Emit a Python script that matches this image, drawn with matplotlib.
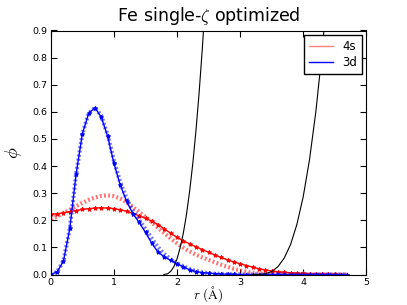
import numpy as np
import matplotlib
matplotlib.use("Agg")
import matplotlib.pyplot as plt
from matplotlib.lines import Line2D

# radial grid (Angstrom)
r = np.round(np.arange(0, 4.71, 0.1), 2)

# 4s: reference (dotted) and optimized single-zeta (stars)
s_ref = [0.205, 0.214, 0.226, 0.239, 0.252, 0.264, 0.275, 0.284, 0.290, 0.292,
         0.289, 0.280, 0.266, 0.249, 0.231, 0.212, 0.192, 0.172, 0.152, 0.133,
         0.115, 0.099, 0.085, 0.073, 0.063, 0.054, 0.045, 0.036, 0.028, 0.021,
         0.015, 0.010, 0.006, 0.004, 0.002, 0.001, 0.0, 0.0, 0.0, 0.0,
         0.0, 0.0, 0.0, 0.0, 0.0, 0.0, 0.0, 0.0]
s_opt = [0.222, 0.224, 0.228, 0.232, 0.236, 0.240, 0.243, 0.245, 0.246, 0.245,
         0.243, 0.239, 0.233, 0.225, 0.217, 0.207, 0.197, 0.184, 0.168, 0.152,
         0.137, 0.124, 0.113, 0.102, 0.092, 0.082, 0.072, 0.063, 0.054, 0.046,
         0.040, 0.033, 0.027, 0.021, 0.017, 0.013, 0.010, 0.008, 0.006, 0.005,
         0.004, 0.003, 0.002, 0.002, 0.001, 0.001, 0.0, 0.0]

# 3d: reference (dotted) and optimized single-zeta (stars)
d_ref = [0.0, 0.010, 0.050, 0.170, 0.370, 0.520, 0.595, 0.615, 0.585, 0.515,
         0.420, 0.340, 0.280, 0.235, 0.200, 0.168, 0.133, 0.100, 0.075, 0.056,
         0.042, 0.030, 0.020, 0.013, 0.008, 0.005, 0.003, 0.002, 0.001, 0.001,
         0.0, 0.0, 0.0, 0.0, 0.0, 0.0, 0.0, 0.0, 0.0, 0.0,
         0.0, 0.0, 0.0, 0.0, 0.0, 0.0, 0.0, 0.0]
d_opt = [0.0, 0.010, 0.050, 0.170, 0.370, 0.520, 0.595, 0.615, 0.580, 0.510,
         0.410, 0.330, 0.270, 0.225, 0.192, 0.155, 0.115, 0.082, 0.065, 0.052,
         0.040, 0.028, 0.017, 0.011, 0.007, 0.005, 0.003, 0.002, 0.001, 0.001,
         0.0, 0.0, 0.0, 0.0, 0.0, 0.0, 0.0, 0.0, 0.0, 0.0,
         0.0, 0.0, 0.0, 0.0, 0.0, 0.0, 0.0, 0.0]

# confinement potentials
v3d_r = [1.79, 1.85, 1.90, 1.95, 2.00, 2.05, 2.10, 2.15, 2.20, 2.25, 2.30, 2.35, 2.40, 2.45]
v3d = [0.0, 0.0025, 0.0115, 0.029, 0.058, 0.099, 0.153, 0.222, 0.308, 0.410, 0.531, 0.671, 0.831, 1.012]
v4s_r = [3.20, 3.30, 3.40, 3.50, 3.60, 3.70, 3.80, 3.90, 4.00, 4.10, 4.20, 4.30, 4.40]
v4s = [0.0, 0.0003, 0.003, 0.011, 0.029, 0.061, 0.111, 0.185, 0.287, 0.424, 0.600, 0.822, 1.095]

plt.rcParams['font.family'] = 'DejaVu Sans'
plt.rcParams['mathtext.fontset'] = 'cm'

fig = plt.figure(figsize=(4.07, 3.05), dpi=100)
ax = fig.add_axes([0.125, 0.1, 0.775, 0.8])

dots = (0, (0.45, 0.55))
ax.plot(r, s_ref, color='r', ls=dots, lw=3, alpha=0.55)
ax.plot(r, s_opt, 'r-', lw=1, marker='*', ms=3.2, mew=0.7)
ax.plot(r, d_ref, color='b', ls=dots, lw=3, alpha=0.55)
ax.plot(r, d_opt, 'b-', lw=1, marker='*', ms=3.2, mew=0.7)
ax.plot(v3d_r, v3d, 'k-', lw=0.8)
ax.plot(v4s_r, v4s, 'k-', lw=0.8)

ax.set_xlim(0, 5)
ax.set_ylim(0, 0.9)
ax.set_xticks(np.arange(0, 6, 1))
ax.set_yticks(np.arange(0, 0.91, 0.1))
ax.tick_params(direction='in', top=True, right=True, labelsize=6.8, length=4, pad=2.5)

ax.set_xlabel(r'$r\ (\mathrm{\AA})$', fontsize=9.5, labelpad=-2)
ax.set_ylabel(r'$\phi$', fontsize=13, labelpad=6)
ax.set_title(u'Fe single-$\\zeta$ optimized', fontsize=12.5, pad=7)

handles = [Line2D([], [], color='r', lw=1, alpha=0.5), Line2D([], [], color='b', lw=1)]
ax.legend(handles, ['4s', '3d'], loc='upper right', fontsize=8.5, fancybox=False,
          framealpha=1, edgecolor='k', handlelength=2.0, labelspacing=0.3,
          borderaxespad=0.4)

fig.savefig('out.png', dpi=100)
